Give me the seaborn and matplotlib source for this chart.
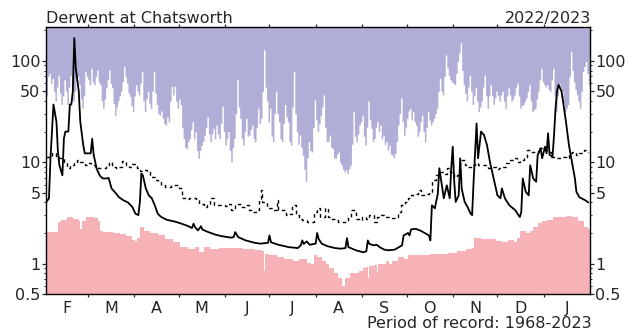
import numpy as np
import matplotlib
matplotlib.use("Agg")
import matplotlib.pyplot as plt
import seaborn as sns
from matplotlib.ticker import FixedLocator, NullFormatter

sns.set_style("ticks")
plt.rcParams['font.family'] = ['DejaVu Sans']

station = "Derwent at Chatsworth"
season = "2022/2023"
record = "Period of record: 1968-2023"
month_labels = ["F", "M", "A", "M", "J", "J", "A", "S", "O", "N", "D", "J"]
month_lengths = [28, 31, 30, 31, 30, 31, 31, 30, 31, 30, 31, 31]

# Highest daily flow on record for each day from 1 February (m3/s), one row per month
max_flow = [
    46, 70, 75, 60, 67, 50, 40, 55, 72, 48, 37, 45, 65, 50, 37, 55, 72, 52, 40, 50, 62, 70, 58, 42, 34, 45, 78, 70,
    65, 58, 84, 62, 58, 70, 81, 62, 58, 40, 34, 42, 54, 65, 81, 60, 54, 38, 29, 35, 40, 45, 50, 62, 88, 70, 60, 48, 44.5, 36, 31.5,
    45, 58, 50, 46, 60, 78, 40, 31.5, 42, 50, 38, 34, 50, 78, 48, 37, 30, 29, 32, 27, 24, 23.2, 28, 25, 40, 56, 46, 56, 40, 34,
    42, 37, 22, 17.1, 14, 13.6, 16, 17.1, 21, 25, 17, 20, 13, 10.9, 13, 14.7, 16, 18.5, 22, 28, 19, 15.9, 19, 21.5, 17, 23.2, 19, 17.1, 24, 35.5, 20,
    14.7, 17, 20, 13, 10.1, 14, 17.1, 30, 65, 35, 27, 17, 14.7, 20, 27, 18, 18.5, 21, 23.2, 17, 15.9, 22, 34, 24, 27, 50, 128, 55, 40, 25,
    34, 18, 15.9, 30, 50, 30, 25, 17, 15.9, 24, 37, 28, 25, 16, 14.7, 35, 78, 30, 20, 15, 18.5, 14, 11.7, 8.5, 6.4, 11, 15.9, 13, 12.6, 22, 41,
    26, 20, 24, 29, 35, 46, 22, 15.9, 16, 18.5, 14, 13.6, 11, 10.9, 12, 12.6, 10, 9.3, 8.5, 8.0, 8.4, 7.7, 8.6, 9.3, 15, 31.5, 18, 15.9, 19, 23.2, 25,
    29, 18, 14.7, 22, 40, 26, 21.5, 16, 17.1, 22, 25, 20, 23.2, 17, 18.5, 15, 15.9, 13, 14.7, 12, 11.7, 11, 12.2, 16, 23.2, 30, 43, 25, 18.5, 22,
    27, 32, 34, 26, 31.5, 25, 23.2, 18, 20, 25, 29, 20, 15.9, 22, 31.5, 26, 23.2, 25, 27, 30, 34, 50, 67, 50, 46, 70, 114, 85, 72, 65, 62,
    60, 58, 75, 98, 120, 150, 80, 58, 48, 40, 55, 72, 50, 37, 45, 54, 40, 31.5, 35, 40, 55, 72, 45, 34, 45, 58, 45, 37, 43, 50,
    45, 40, 46, 50, 40, 34, 45, 54, 46, 40, 42, 46, 55, 60, 45, 34, 36, 37, 40, 43, 50, 58, 40, 31.5, 33, 34, 42, 50, 65, 84, 62,
    58, 55, 58, 52, 50, 65, 84, 45, 31.5, 45, 60, 55, 50, 38, 31.5, 34, 37, 70, 124, 80, 62, 52, 46, 40, 34, 50, 78, 88, 98, 75, 58,
]

# Lowest daily flow on record (day counted from 1 February, m3/s)
min_days = [0, 8, 10, 14, 18, 22, 23, 24, 27, 32, 35, 36, 38, 45, 50, 54, 58, 60, 61,
            63, 66, 70, 75, 80, 85, 90, 95, 100, 103, 106, 110, 116, 125, 132, 140,
            145, 146, 147, 150, 155, 160, 166, 170, 175, 178, 180, 182, 185, 188, 190,
            193, 196, 199, 201, 204, 207, 210, 213, 215, 216, 217, 220, 222, 223, 228,
            230, 232, 236, 240, 243, 250, 258, 265, 270, 276, 282, 286, 287, 292, 297,
            302, 306, 310, 314, 316, 318, 322, 325, 327, 330, 333, 336, 340, 345, 350,
            353, 357, 361, 364]
min_flow = [2.04, 2.56, 2.7, 2.87, 2.75, 2.6, 2.2, 2.6, 2.87, 2.8, 2.6, 2.1, 2.05, 2.0,
            1.95, 1.85, 1.69, 1.65, 1.8, 2.27, 2.1, 2.0, 1.9, 1.75, 1.62, 1.44, 1.4, 1.44,
            1.29, 1.45, 1.4, 1.42, 1.42, 1.38, 1.35, 1.33, 0.85, 1.25, 1.2, 1.15, 1.12,
            1.07, 1.1, 1.02, 0.98, 1.2, 1.15, 1.05, 1.0, 0.9, 0.8, 0.72, 0.6, 0.72, 0.8,
            0.8, 0.84, 0.9, 0.92, 0.72, 0.95, 0.96, 0.82, 1.0, 1.07, 1.0, 1.07, 1.15, 1.1,
            1.2, 1.2, 1.23, 1.25, 1.28, 1.32, 1.38, 1.42, 1.77, 1.75, 1.75, 1.68, 1.62,
            1.7, 1.62, 1.8, 2.1, 2.0, 2.1, 2.3, 2.5, 2.6, 2.7, 2.87, 2.9, 2.94, 2.87, 2.6,
            2.3, 2.2]

# Long-term mean daily flow
mean_days = [0, 2, 4, 7, 9, 12, 14, 16, 19, 21, 23, 26, 28, 30, 33, 35, 37, 40, 42, 44,
             47, 49, 51, 54, 56, 58, 61, 63, 66, 68, 70, 73, 75, 77, 80, 82, 84, 87, 89,
             91, 94, 96, 98, 101, 103, 106, 108, 110, 113, 115, 117, 120, 122, 124, 127,
             129, 131, 134, 136, 138, 141, 143, 144, 145, 148, 150, 153, 155, 156, 158,
             161, 163, 165, 168, 170, 172, 175, 177, 180, 182, 184, 187, 189, 191, 194,
             196, 198, 201, 203, 205, 208, 210, 212, 215, 217, 220, 222, 224, 227, 229,
             231, 234, 236, 238, 241, 243, 245, 248, 250, 252, 255, 257, 259, 262, 264,
             267, 269, 271, 274, 276, 278, 281, 283, 285, 288, 290, 292, 295, 297, 299,
             302, 304, 306, 309, 311, 314, 316, 318, 321, 323, 325, 328, 330, 332, 335,
             337, 339, 342, 344, 346, 349, 351, 353, 356, 358, 361, 364]
mean_flow = [11.3, 11.6, 12.2, 11.3, 10.9, 10.0, 8.7, 9.3, 9.7, 10.4, 10.0, 9.3, 9.7, 9.3,
             9.0, 8.7, 8.7, 9.3, 10.0, 9.0, 8.7, 9.0, 10.2, 9.3, 9.0, 9.5, 8.7, 8.1, 8.3,
             8.0, 7.1, 6.6, 6.4, 5.9, 5.7, 5.7, 6.0, 5.9, 5.5, 4.4, 4.3, 4.4, 4.4, 4.2,
             3.9, 3.6, 3.75, 4.4, 3.75, 3.75, 3.75, 3.7, 3.9, 3.35, 3.75, 3.9, 3.6, 3.75,
             3.35, 3.2, 3.35, 4.2, 5.3, 4.05, 3.5, 3.5, 3.35, 4.2, 3.35, 3.35, 3.0, 3.1,
             3.75, 3.0, 2.77, 2.66, 2.56, 2.56, 3.2, 3.5, 2.87, 3.5, 2.87, 2.77, 2.66,
             2.56, 2.56, 2.56, 2.87, 3.35, 2.77, 2.66, 2.87, 2.77, 2.98, 2.56, 2.87, 2.98,
             2.87, 2.87, 2.8, 2.87, 3.2, 3.75, 4.05, 4.4, 4.7, 4.9, 5.3, 4.7, 4.9, 5.1,
             6.6, 7.4, 8.0, 7.7, 8.7, 8.0, 7.1, 7.4, 10.4, 9.3, 9.0, 9.3, 9.7, 9.3, 9.3,
             9.3, 8.7, 9.0, 8.5, 8.7, 9.0, 9.9, 10.4, 10.9, 10.0, 10.4, 11.3, 13.1, 12.6,
             12.2, 13.7, 13.7, 13.1, 12.6, 11.3, 10.9, 10.9, 11.3, 10.9, 12.2, 12.6, 11.7,
             12.2, 13.1, 12.6]

# Daily mean flow 2022/2023
flow_days = [0, 2, 3, 5, 7, 8, 9, 11, 12, 13, 15, 16, 17, 18, 19, 20, 22, 23, 25, 26,
             30, 31, 32, 34, 36, 38, 41, 42, 44, 47, 49, 52, 55, 58, 60, 62, 63, 64, 65,
             67, 69, 71, 73, 75, 77, 81, 86, 90, 95, 98, 99, 100, 102, 104, 105, 109,
             114, 118, 124, 126, 127, 129, 134, 140, 144, 149, 150, 151, 156, 163, 169,
             171, 172, 173, 175, 177, 181, 182, 183, 185, 189, 194, 198, 201, 202, 203,
             208, 213, 215, 216, 217, 220, 222, 224, 227, 230, 234, 237, 239, 240, 243,
             244, 245, 248, 251, 255, 257, 258, 259, 261, 263, 264, 265, 267, 269, 271,
             272, 273, 274, 275, 277, 278, 279, 281, 283, 285, 286, 287, 289, 290, 291,
             292, 294, 296, 298, 301, 303, 305, 306, 308, 311, 315, 318, 319, 320, 322,
             324, 325, 327, 329, 330, 331, 332, 333, 335, 336, 337, 338, 340, 341, 342,
             343, 344, 346, 347, 349, 351, 353, 355, 356, 358, 362, 364]
flow = [4.0, 4.4, 10.9, 37, 25, 12.6, 9.3, 7.4, 17, 20, 20, 37, 37, 50, 167, 84, 50, 25,
        14.7, 12.2, 12.2, 17, 11.8, 8.6, 7.4, 6.9, 6.9, 7.0, 5.5, 4.9, 4.5, 4.2, 4.0, 3.6,
        3.1, 3.0, 4.05, 7.7, 7.4, 5.5, 4.7, 4.4, 3.75, 3.1, 2.9, 2.7, 2.6, 2.5, 2.35,
        2.24, 2.47, 2.29, 2.12, 2.33, 2.16, 2.04, 1.92, 1.86, 1.80, 1.82, 2.04, 1.82, 1.69,
        1.60, 1.57, 1.60, 1.89, 1.62, 1.53, 1.45, 1.42, 1.51, 1.69, 1.56, 1.65, 1.53, 1.57,
        2.0, 1.75, 1.57, 1.48, 1.42, 1.40, 1.42, 1.78, 1.45, 1.35, 1.29, 1.32, 1.69, 1.56,
        1.51, 1.53, 1.45, 1.37, 1.35, 1.37, 1.45, 1.51, 1.89, 2.0, 1.89, 2.17, 2.2, 2.12,
        1.97, 1.89, 1.69, 3.75, 3.5, 4.9, 8.7, 6.9, 4.4, 5.9, 4.4, 8.7, 14.2, 6.4, 4.05,
        4.7, 10.9, 5.5, 4.05, 3.6, 3.1, 3.0, 6.4, 24, 10.9, 14.7, 20, 18.5, 14.7, 10, 6.4,
        4.7, 4.4, 5.5, 4.4, 3.75, 3.35, 2.87, 3.2, 6.9, 5.1, 4.7, 9.3, 6.9, 6.4, 11.7,
        12.6, 13.7, 10.9, 14.2, 12.2, 19.2, 11.8, 11.3, 18.5, 34, 50, 58, 50, 40, 25, 14.7,
        10, 6.9, 5.1, 4.5, 4.2, 4.0]

y_low, y_high = 0.5, 215
n_days = sum(month_lengths)
max_colour = "#b0aed6"
min_colour = "#f7b2b7"

fig = plt.figure(figsize=(6.39, 3.33), dpi=100)
ax = fig.add_axes([0.072, 0.117, 0.851, 0.802])

# Envelope of record: above the maximum and below the minimum are shaded
max_x = np.arange(len(max_flow) + 1)
max_y = list(max_flow) + [max_flow[-1]]
ax.fill_between(max_x, max_y, y_high, step="post", color=max_colour, lw=0)
min_x = list(min_days) + [n_days]
min_y = list(min_flow) + [min_flow[-1]]
ax.fill_between(min_x, y_low, min_y, step="post", color=min_colour, lw=0)

sns.lineplot(x=mean_days, y=mean_flow, ax=ax, color="black", lw=1.0,
             drawstyle="steps-post", linestyle=(0, (2.6, 2.4)))
sns.lineplot(x=flow_days, y=flow, ax=ax, color="black", lw=1.3)

ax.set_yscale("log")
ax.set_ylim(y_low, y_high)
ax.set_xlim(0, n_days)

major = [0.5, 1, 5, 10, 50, 100]
ax.yaxis.set_major_locator(FixedLocator(major))
ax.set_yticklabels(["0.5", "1", "5", "10", "50", "100"])
minor = [0.6, 0.7, 0.8, 0.9, 2, 3, 4, 6, 7, 8, 9, 20, 30, 40, 60, 70, 80, 90, 200]
ax.yaxis.set_minor_locator(FixedLocator(minor))
ax.yaxis.set_minor_formatter(NullFormatter())
ax.tick_params(axis="y", which="major", direction="out", length=3, width=0.9,
               pad=1, labelsize=11.5, left=True, right=True, labelleft=True,
               labelright=True)
ax.tick_params(axis="y", which="minor", direction="out", length=1.6, width=0.7,
               left=True, right=True)

bounds = np.cumsum(month_lengths)[:-1]
mids = np.cumsum(month_lengths) - np.array(month_lengths) / 2
ax.set_xticks(bounds)
ax.set_xticklabels([""] * len(bounds))
ax.set_xticks(mids, minor=True)
ax.set_xticklabels(month_labels, minor=True)
ax.tick_params(axis="x", which="major", direction="out", length=2.5, width=0.9,
               top=True, bottom=True)
ax.tick_params(axis="x", which="minor", length=0, pad=5, labelsize=11.5)
ax.set_xlabel("")
ax.set_ylabel("")

for s in ax.spines.values():
    s.set_visible(True)
    s.set_linewidth(1.0)
    s.set_color("black")

fig.text(46 / 639, 1 - 23 / 333, station, ha="left", va="baseline", fontsize=11.5)
fig.text(591 / 639, 1 - 23 / 333, season, ha="right", va="baseline", fontsize=11.5)
fig.text(592 / 639, 1 - 328 / 333, record, ha="right", va="baseline", fontsize=11.5)

fig.savefig("out.png", dpi=100)
